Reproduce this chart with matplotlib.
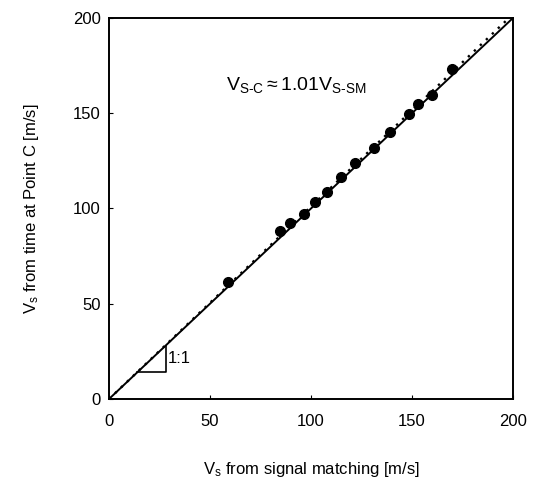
import matplotlib
matplotlib.use("Agg")
import matplotlib.pyplot as plt
import numpy as np

plt.rcParams['font.family'] = ['Liberation Sans', 'DejaVu Sans']
plt.rcParams['mathtext.fontset'] = 'custom'
plt.rcParams['mathtext.rm'] = 'Liberation Sans'
plt.rcParams['mathtext.it'] = 'Liberation Sans'

# Vs from signal matching vs Vs from time at point C
vs_sm = [59, 84.5, 89.5, 96.5, 102, 108, 115, 122, 131, 139, 148.5, 153, 160, 170]
vs_c = [61.5, 88, 92.5, 97, 103.5, 108.5, 116.5, 124, 131.5, 140, 149.5, 155, 159.5, 173]
fit_slope = 1.01
ticks = [0, 50, 100, 150, 200]

fig = plt.figure(figsize=(5.33, 4.79), dpi=100)
ax = fig.add_axes([0.2045, 0.167, 0.758, 0.7955])

line_x = np.array([0, 200])
ax.plot(line_x, line_x, color='black', lw=1.4)
ax.plot(line_x, fit_slope * line_x, color='black', lw=1.7, ls=(0, (1, 2.5)))
ax.plot(vs_sm, vs_c, 'o', color='black', ms=7)

# 1:1 slope triangle
ax.plot([14, 28, 28], [14, 14, 28], color='black', lw=1.2)
ax.text(29, 21.5, '1:1', fontsize=12, va='center', ha='left')

ax.text(58, 165, r'V$_\mathrm{S\text{-}C}\approx$1.01V$_\mathrm{S\text{-}SM}$', fontsize=14,
        va='center', ha='left')

ax.set_xlim(0, 200)
ax.set_ylim(0, 200)
ax.set_xticks(ticks)
ax.set_yticks(ticks)
ax.tick_params(direction='in', length=3, labelsize=12)
ax.tick_params(axis='x', pad=11)
ax.tick_params(axis='y', pad=6)
for s in ax.spines.values():
    s.set_linewidth(1.4)

ax.set_xlabel(r'V$_\mathrm{s}$ from signal matching [m/s]', fontsize=12, labelpad=22)
ax.set_ylabel(r'V$_\mathrm{s}$ from time at Point C [m/s]', fontsize=12, labelpad=23)

fig.savefig('out.png', dpi=100)
